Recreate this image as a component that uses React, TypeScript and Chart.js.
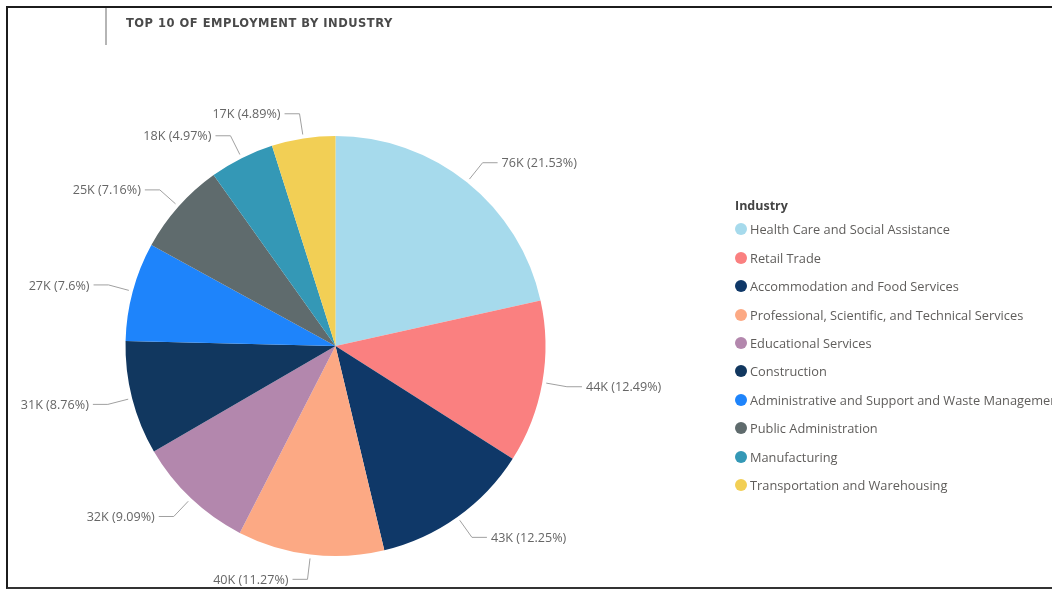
import React, { useEffect, useRef } from "react";
import { Chart, registerables } from "chart.js";

Chart.register(...registerables);

const TITLE = "TOP 10 OF EMPLOYMENT BY INDUSTRY";
const LEGEND_TITLE = "Industry";

const industries = [
  "Health Care and Social Assistance",
  "Retail Trade",
  "Accommodation and Food Services",
  "Professional, Scientific, and Technical Services",
  "Educational Services",
  "Construction",
  "Administrative and Support and Waste Management and Remediation Services",
  "Public Administration",
  "Manufacturing",
  "Transportation and Warehousing",
];

const employment = [76000, 44090, 43240, 39780, 32090, 30920, 26830, 25270, 17540, 17260];

const colors = [
  "#A6DAEC",
  "#FA8080",
  "#0F3868",
  "#FCA984",
  "#B387AD",
  "#11375F",
  "#1E84FB",
  "#5F6B6D",
  "#3498B6",
  "#F2CF55",
];

const LABEL_FONT = '12.6px "Open Sans", "Noto Sans", sans-serif';

export default function App() {
  const ref = useRef<HTMLCanvasElement>(null);

  useEffect(() => {
    if (!ref.current) return;
    const total = employment.reduce((a, b) => a + b, 0);
    const labelPlugin = {
      id: "pieLabels",
      afterDatasetsDraw(chart: any) {
        const ctx = chart.ctx;
        const meta = chart.getDatasetMeta(0);
        ctx.save();
        ctx.font = LABEL_FONT;
        ctx.fillStyle = "#666666";
        ctx.strokeStyle = "#a0a0a0";
        ctx.lineWidth = 1;
        ctx.textBaseline = "middle";
        meta.data.forEach((arc: any, i: number) => {
          const p = arc.getProps(["x", "y", "startAngle", "endAngle", "outerRadius"], true);
          const mid = (p.startAngle + p.endAngle) / 2;
          const c = Math.cos(mid);
          const s = Math.sin(mid);
          const r = p.outerRadius;
          const x1 = p.x + c * (r + 4);
          const y1 = p.y + s * (r + 4);
          const x2 = p.x + c * (r + 25);
          const y2 = p.y + s * (r + 25);
          const dir = c >= 0 ? 1 : -1;
          const x3 = x2 + dir * 15;
          ctx.beginPath();
          ctx.moveTo(x1, y1);
          ctx.lineTo(x2, y2);
          ctx.lineTo(x3, y2);
          ctx.stroke();
          const v = employment[i];
          const pct = parseFloat(((v / total) * 100).toFixed(2)).toString();
          const text = `${Math.round(v / 1000)}K (${pct}%)`;
          ctx.textAlign = dir > 0 ? "left" : "right";
          ctx.fillText(text, x3 + dir * 4, y2 + 1);
        });
        ctx.restore();
      },
    };

    const chart = new Chart(ref.current, {
      type: "pie",
      data: {
        labels: industries,
        datasets: [
          {
            data: employment,
            backgroundColor: colors,
            borderWidth: 0,
            hoverOffset: 0,
          },
        ],
      },
      options: {
        responsive: false,
        animation: false,
        devicePixelRatio: 1,
        radius: 210,
        layout: { padding: { left: 125, right: 506, top: 136, bottom: 35 } },
        plugins: {
          legend: { display: false },
          tooltip: { enabled: false },
          title: { display: false },
        },
      } as any,
      plugins: [labelPlugin],
    });
    return () => chart.destroy();
  }, []);

  return (
    <div
      style={{
        position: "absolute",
        left: 0,
        top: 0,
        width: 1052,
        height: 591,
        overflow: "hidden",
        background: "#ffffff",
      }}
    >
      <canvas
        ref={ref}
        width={1052}
        height={591}
        style={{ position: "absolute", left: 0, top: 0, width: 1052, height: 591 }}
      />
      <div
        style={{
          position: "absolute",
          left: 6,
          top: 6,
          width: 1200,
          height: 583,
          boxSizing: "border-box",
          borderTop: "2px solid #1c1c1c",
          borderLeft: "2px solid #1c1c1c",
          borderBottom: "2px solid #333",
          pointerEvents: "none",
        }}
      />
      <div
        style={{
          position: "absolute",
          left: 105,
          top: 8,
          width: 1.5,
          height: 37,
          background: "#b5b5b5",
        }}
      />
      <div
        style={{
          position: "absolute",
          left: 126,
          top: 16,
          lineHeight: "16px",
          font: 'bold 11.5px "DejaVu Sans", sans-serif',
          letterSpacing: "0.5px",
          color: "#4a4a4a",
          whiteSpace: "nowrap",
        }}
      >
        {TITLE}
      </div>
      <div
        style={{
          position: "absolute",
          left: 735,
          top: 196,
          fontFamily: '"Open Sans", "Noto Sans", sans-serif',
          whiteSpace: "nowrap",
        }}
      >
        <div
          style={{
            height: 19,
            lineHeight: "19px",
            fontSize: 12.5,
            fontWeight: 700,
            color: "#444444",
          }}
        >
          {LEGEND_TITLE}
        </div>
        {industries.map((name, i) => (
          <div
            key={name}
            style={{
              height: 28.44,
              display: "flex",
              alignItems: "center",
              fontSize: 12.8,
              color: "#5f5d5b",
            }}
          >
            <span
              style={{
                display: "inline-block",
                width: 12,
                height: 12,
                borderRadius: "50%",
                background: colors[i],
                marginRight: 3,
                flex: "0 0 auto",
              }}
            />
            <span>{name}</span>
          </div>
        ))}
      </div>
    </div>
  );
}
